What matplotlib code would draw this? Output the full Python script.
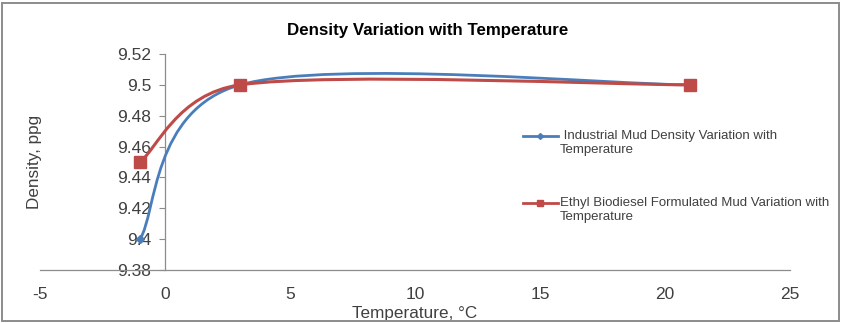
import numpy as np
import matplotlib
matplotlib.use("Agg")
import matplotlib.pyplot as plt
from matplotlib.path import Path
from matplotlib.patches import PathPatch, Rectangle
from matplotlib.lines import Line2D

plt.rcParams["font.family"] = ["Liberation Sans", "DejaVu Sans"]
plt.rcParams["axes.unicode_minus"] = False

temps       = [-1, 3, 21]
industrial  = [9.40, 9.50, 9.50]
ethyl       = [9.45, 9.50, 9.50]
labels      = [" Industrial Mud Density Variation with\nTemperature",
               "Ethyl Biodiesel Formulated Mud Variation with\nTemperature"]
xticks      = [-5, 0, 5, 10, 15, 20, 25]
yticks      = [9.38, 9.40, 9.42, 9.44, 9.46, 9.48, 9.50, 9.52]
ytick_lbls  = ["9.38", "9.4", "9.42", "9.44", "9.46", "9.48", "9.5", "9.52"]

BLUE = "#4A7EBB"
RED  = "#BE4B48"
TXT  = "#404040"


def smooth_path(ax, xs, ys):
    # Excel-style smoothed line: Bezier segments, control points worked out
    # in screen space (tangent/6, capped at half the segment length)
    tr = ax.transData
    pts = tr.transform(np.column_stack([xs, ys]))
    n = len(pts)
    verts = [pts[0]]
    codes = [Path.MOVETO]
    for i in range(n - 1):
        p0 = pts[max(i - 1, 0)]
        p1 = pts[i]
        p2 = pts[i + 1]
        p3 = pts[min(i + 2, n - 1)]
        seg = np.hypot(*(p2 - p1))
        v1, v2 = p2 - p0, p3 - p1
        d1, d2 = np.hypot(*v1), np.hypot(*v2)
        c1 = p1 + v1 / d1 * min(d1 / 6, seg / 2)
        c2 = p2 - v2 / d2 * min(d2 / 6, seg / 2)
        verts += [c1, c2, p2]
        codes += [Path.CURVE4] * 3
    verts = tr.inverted().transform(np.array(verts))
    return Path(verts, codes)


fig = plt.figure(figsize=(8.41, 3.23), dpi=100)
ax = fig.add_axes([40 / 841, 1 - 270 / 323, 750 / 841, 216 / 323])
ax.set_xlim(-5, 25)
ax.set_ylim(9.38, 9.52)

ax.add_patch(PathPatch(smooth_path(ax, temps, industrial), fill=False,
                       edgecolor=BLUE, lw=2.0, capstyle="round", zorder=3))
ax.plot(temps, industrial, ls="none", marker="D", ms=4, color=BLUE, zorder=4)
ax.add_patch(PathPatch(smooth_path(ax, temps, ethyl), fill=False,
                       edgecolor=RED, lw=2.2, capstyle="round", zorder=5))
ax.plot(temps, ethyl, ls="none", marker="s", ms=8, color=RED, zorder=6)

ax.set_xticks(xticks)
ax.set_yticks(yticks)
ax.set_yticklabels(ytick_lbls)

for s in ("top", "right"):
    ax.spines[s].set_visible(False)
ax.spines["left"].set_position(("data", 0))
for s in ("left", "bottom"):
    ax.spines[s].set_color("#8c8c8c")
    ax.spines[s].set_linewidth(0.9)
ax.tick_params(axis="y", direction="out", length=4, width=0.8, color="#8c8c8c",
               labelsize=12.5, labelcolor=TXT, pad=6)
ax.tick_params(axis="x", direction="out", length=0, labelsize=12.5,
               labelcolor=TXT, pad=12)

ax.set_xlabel("Temperature, °C", fontsize=12.3, color=TXT, labelpad=3)
ax.set_ylabel("Density, ppg", fontsize=12.3, color=TXT)
ax.yaxis.set_label_coords(0.003, 0.5)
ax.set_title("Density Variation with Temperature", fontsize=12.2,
             fontweight="bold", pad=14, x=0.517)

# blank first line so the legend handle sits level with the first text line
handles = [Line2D([], [], color=BLUE, lw=2, marker="D", ms=3),
           Line2D([], [], color=RED, lw=2, marker="s", ms=4)]
leg = ax.legend(handles, ["\n" + l for l in labels], loc="upper left",
                bbox_to_anchor=(516 / 841, 1 - 110 / 323), bbox_transform=fig.transFigure,
                frameon=False, fontsize=9.5, handlelength=2.7, handletextpad=0.15,
                labelspacing=2.05, borderpad=0, labelcolor=TXT)
for t in leg.get_texts():
    t.set_linespacing(1.2)

fig.patches.append(Rectangle((1.5 / 841, 2 / 323), 837 / 841, 318 / 323,
                             transform=fig.transFigure, fill=False,
                             edgecolor="#8c8c8c", lw=1.4))

fig.savefig("out.png", dpi=100)
